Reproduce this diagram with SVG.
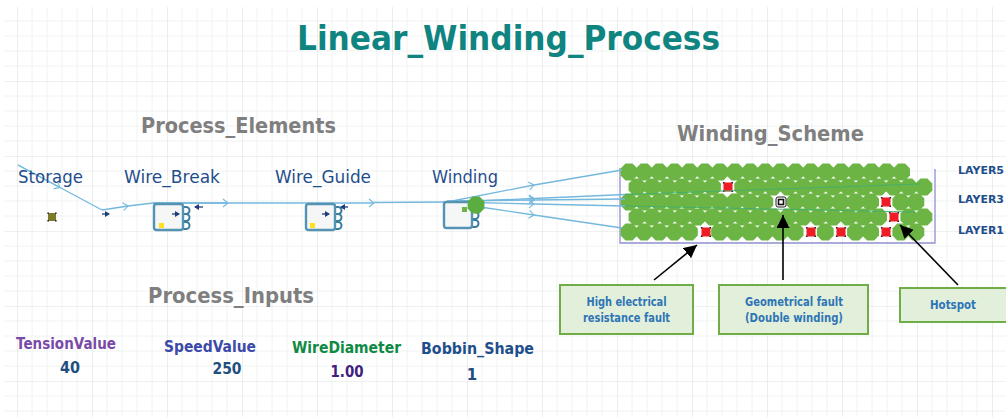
<svg xmlns="http://www.w3.org/2000/svg" width="1006" height="417" viewBox="0 0 1006 417">
<style>
text{font-family:"DejaVu Sans","Noto Sans",sans-serif}
.h{font-weight:700;fill:#7f7f7f;font-size:21px}
.n{fill:#1f4e8c;font-size:18px}
.l{font-weight:700;fill:#1f4e8c;font-size:11px}
.c{font-weight:700;fill:#2e75b6;font-size:12px;text-anchor:middle}
.b{fill:#e2efda;stroke:#70ad47;stroke-width:2}
.i{font-weight:700;font-size:15px}
.v{font-weight:700;font-size:15px;text-anchor:middle}
.w{fill:none;stroke:#74b8de;stroke-width:1.3}
.t{fill:none;stroke:#3fae6e;stroke-width:.9}
.k{stroke:#000;stroke-width:1.6;fill:none;marker-end:url(#blk)}
.box{fill:#f5f6f6;stroke:#5493b3;stroke-width:2.4}
.port{fill:none;stroke:#3a7d9f;stroke-width:2}
.g{fill:#6cb544}
.r{fill:#ee1c25;stroke:#222;stroke-width:1.2;stroke-dasharray:2 7;stroke-dashoffset:1}
.mini{stroke:#1f3f7a;stroke-width:1.3;fill:none;marker-end:url(#mini)}
</style>
<defs>
<pattern id="grid" x="17" y="6" width="75" height="75" patternUnits="userSpaceOnUse">
<path d="M15 0V75M30 0V75M45 0V75M60 0V75M0 15H75M0 30H75M0 45H75M0 60H75" stroke="#f0f2f2" stroke-width="1" fill="none"/>
<path d="M0 0V75M0 0H75" stroke="#dfe2e2" stroke-width="1.2" fill="none"/>
</pattern>
<marker id="chev" markerWidth="9" markerHeight="10" refX="7" refY="5" orient="auto" markerUnits="userSpaceOnUse"><path d="M2 1L7 5L2 9" fill="none" stroke="#74b8de" stroke-width="1.1"/></marker>
<marker id="blk" markerWidth="14" markerHeight="13" refX="13" refY="6.500" orient="auto" markerUnits="userSpaceOnUse"><path d="M0 0L13 6.500L0 13Z" fill="#000"/></marker>
<marker id="mini" markerWidth="5" markerHeight="6" refX="4" refY="3" orient="auto" markerUnits="userSpaceOnUse"><path d="M0 0L5 3L0 6Z" fill="#1f3f7a"/></marker>
<polygon id="o" class="g" points="8.4,3.5 3.5,8.4 -3.5,8.4 -8.4,3.5 -8.4,-3.5 -3.5,-8.4 3.5,-8.4 8.4,-3.5"/>
<rect id="rd" x="-4.500" y="-4.500" width="9" height="9" class="r"/>
</defs>
<rect width="1006" height="417" fill="#fff"/>
<rect x="4" y="7" width="1002" height="410" fill="url(#grid)"/>

<text id="title" x="297" y="50" font-size="34" font-weight="700" fill="#0f8480" textLength="423" lengthAdjust="spacingAndGlyphs">Linear_Winding_Process</text>
<text class="h" x="141" y="133" textLength="195" lengthAdjust="spacingAndGlyphs">Process_Elements</text>
<text class="h" x="677" y="141" textLength="187" lengthAdjust="spacingAndGlyphs">Winding_Scheme</text>
<text class="h" x="148" y="303" textLength="166" lengthAdjust="spacingAndGlyphs">Process_Inputs</text>

<g id="winding-scheme">
<path d="M620 168V243H935V169" fill="none" stroke="#8f8fd0" stroke-width="1.3"/>
<g id="layer5"><use href="#o" x="629" y="172"/><use href="#o" x="644.2" y="172"/><use href="#o" x="659.3" y="172"/><use href="#o" x="674.5" y="172"/><use href="#o" x="689.6" y="172"/><use href="#o" x="704.8" y="172"/><use href="#o" x="719.9" y="172"/><use href="#o" x="735" y="172"/><use href="#o" x="750.2" y="172"/><use href="#o" x="765.3" y="172"/><use href="#o" x="780.5" y="172"/><use href="#o" x="795.6" y="172"/><use href="#o" x="810.7" y="172"/><use href="#o" x="825.9" y="172"/><use href="#o" x="841" y="172"/><use href="#o" x="856.2" y="172"/><use href="#o" x="871.3" y="172"/><use href="#o" x="886.5" y="172"/><use href="#o" x="901.6" y="172"/></g>
<g id="layer4"><use href="#o" x="637" y="187"/><use href="#o" x="652.1" y="187"/><use href="#o" x="667.2" y="187"/><use href="#o" x="682.3" y="187"/><use href="#o" x="697.4" y="187"/><use href="#o" x="712.5" y="187"/><use href="#o" x="742.7" y="187"/><use href="#o" x="757.8" y="187"/><use href="#o" x="772.9" y="187"/><use href="#o" x="788" y="187"/><use href="#o" x="803.1" y="187"/><use href="#o" x="818.2" y="187"/><use href="#o" x="833.3" y="187"/><use href="#o" x="848.4" y="187"/><use href="#o" x="863.5" y="187"/><use href="#o" x="878.6" y="187"/><use href="#o" x="893.7" y="187"/><use href="#o" x="908.8" y="187"/><use href="#o" x="923.9" y="187"/></g>
<g id="layer3"><use href="#o" x="629" y="202"/><use href="#o" x="644.1" y="202"/><use href="#o" x="659.2" y="202"/><use href="#o" x="674.3" y="202"/><use href="#o" x="689.4" y="202"/><use href="#o" x="704.5" y="202"/><use href="#o" x="719.6" y="202"/><use href="#o" x="734.7" y="202"/><use href="#o" x="749.8" y="202"/><use href="#o" x="764.9" y="202"/><use href="#o" x="795.1" y="202"/><use href="#o" x="810.2" y="202"/><use href="#o" x="825.3" y="202"/><use href="#o" x="840.4" y="202"/><use href="#o" x="855.5" y="202"/><use href="#o" x="870.6" y="202"/><use href="#o" x="900.8" y="202"/><use href="#o" x="915.9" y="202"/></g>
<g id="layer2"><use href="#o" x="637" y="217"/><use href="#o" x="652.1" y="217"/><use href="#o" x="667.2" y="217"/><use href="#o" x="682.3" y="217"/><use href="#o" x="697.4" y="217"/><use href="#o" x="712.5" y="217"/><use href="#o" x="727.6" y="217"/><use href="#o" x="742.7" y="217"/><use href="#o" x="757.8" y="217"/><use href="#o" x="772.9" y="217"/><use href="#o" x="788" y="217"/><use href="#o" x="803.1" y="217"/><use href="#o" x="818.2" y="217"/><use href="#o" x="833.3" y="217"/><use href="#o" x="848.4" y="217"/><use href="#o" x="863.5" y="217"/><use href="#o" x="878.6" y="217"/><use href="#o" x="908.8" y="217"/><use href="#o" x="923.9" y="217"/></g>
<g id="layer1"><use href="#o" x="629" y="232"/><use href="#o" x="644.1" y="232"/><use href="#o" x="659.2" y="232"/><use href="#o" x="674.3" y="232"/><use href="#o" x="689.4" y="232"/><use href="#o" x="719.6" y="232"/><use href="#o" x="734.7" y="232"/><use href="#o" x="749.8" y="232"/><use href="#o" x="764.9" y="232"/><use href="#o" x="780" y="232"/><use href="#o" x="795.1" y="232"/><use href="#o" x="825.3" y="232"/><use href="#o" x="855.5" y="232"/><use href="#o" x="870.6" y="232"/><use href="#o" x="900.8" y="232"/><use href="#o" x="915.9" y="232"/></g>
<g id="faults"><use href="#rd" x="728" y="187"/><use href="#rd" x="886" y="202"/><use href="#rd" x="894" y="217"/><use href="#rd" x="706" y="232"/><use href="#rd" x="811" y="232"/><use href="#rd" x="841" y="232"/><use href="#rd" x="886" y="232"/>
<rect x="776" y="197" width="10" height="10" rx="2" fill="#fff" stroke="#222" stroke-width="1"/><rect x="778.500" y="199.500" width="5" height="5" fill="none" stroke="#111" stroke-width="1.6"/></g>
</g>

<g id="connectors">
<path class="w" d="M18 165L102 210"/>
<path class="w" d="M18 165L60 187.500" marker-end="url(#chev)"/>
<path class="w" d="M102 210L128 206" marker-end="url(#chev)"/>
<path class="w" d="M128 206L153 203H228"/>
<path class="w" d="M153 203H228" marker-end="url(#chev)"/>
<path class="w" d="M228 203H374" marker-end="url(#chev)"/>
<path class="w" d="M374 202.500L447 202"/>
<path class="w" d="M447 202L534 185" marker-end="url(#chev)"/>
<path class="w" d="M534 185L622 170"/>
<path class="w" d="M447 202L534 198.500" marker-end="url(#chev)"/>
<path class="w" d="M534 198.500L625 194.500"/>
<path class="w" d="M447 201L534 200" marker-end="url(#chev)"/>
<path class="w" d="M534 200L625 199"/>
<path class="w" d="M447 202L534 204" marker-end="url(#chev)"/>
<path class="w" d="M534 204L625 206"/>
<path class="w" d="M480 207L534 215" marker-end="url(#chev)"/>
<path class="w" d="M534 215L622 228"/>
<path class="t" d="M625 194.500L920 184"/>
<path class="t" d="M625 206L915 212"/>
<path class="k" d="M654 280L697 245"/>
<path class="k" d="M783 280V215"/>
<path class="k" d="M958 285L900 225"/>
</g>

<g id="storage"><text class="n" x="18" y="183" textLength="65" lengthAdjust="spacingAndGlyphs">Storage</text><rect x="48" y="213" width="8" height="8" fill="#7d7a2c" stroke="#222" stroke-width="1.200" stroke-dasharray="2 6" stroke-dashoffset="1"/></g>
<g id="wire-break"><text class="n" x="124" y="183" textLength="96" lengthAdjust="spacingAndGlyphs">Wire_Break</text><path class="port" d="M183 207h3a2 2 0 0 1 0 7h-3M183 214h3a2 2 0 0 1 0 7h-3M183 222h3a2 2 0 0 1 0 7h-3"/><rect class="box" x="154" y="204" width="29" height="26" rx="2.500"/><rect x="159" y="223" width="5" height="5" fill="#ffdf20"/><path class="mini" d="M172 214H179"/><path class="mini" d="M203 207H195"/><path class="mini" d="M102 214H109"/></g>
<g id="wire-guide"><text class="n" x="275" y="183" textLength="96" lengthAdjust="spacingAndGlyphs">Wire_Guide</text><path class="port" d="M335 207h3a2 2 0 0 1 0 7h-3M335 214h3a2 2 0 0 1 0 7h-3M335 222h3a2 2 0 0 1 0 7h-3"/><rect class="box" x="306" y="204" width="29" height="26" rx="2.500"/><rect x="310" y="223" width="5" height="5" fill="#ffdf20"/><path class="mini" d="M322 214H329"/><path class="mini" d="M348 207H341"/></g>
<g id="winding"><text class="n" x="432" y="183" textLength="66" lengthAdjust="spacingAndGlyphs">Winding</text><path class="port" d="M472 212h3a2 2 0 0 1 0 7h-3M472 220h3a2 2 0 0 1 0 7h-3"/><rect class="box" x="444" y="202" width="28" height="26" rx="2.500"/><rect x="462" y="207" width="5" height="5" fill="#6cb544"/><polygon transform="translate(476 205)" fill="#5aae3f" points="8.4,3.5 3.5,8.4 -3.5,8.4 -8.4,3.5 -8.4,-3.5 -3.5,-8.4 3.5,-8.4 8.4,-3.5"/></g>

<text class="l" x="958" y="174" textLength="46" lengthAdjust="spacingAndGlyphs">LAYER5</text>
<text class="l" x="958" y="203" textLength="46" lengthAdjust="spacingAndGlyphs">LAYER3</text>
<text class="l" x="958" y="234" textLength="46" lengthAdjust="spacingAndGlyphs">LAYER1</text>

<g id="note-resistance"><rect class="b" x="560" y="285" width="133" height="49"/><text class="c" x="626.500" y="306" textLength="80" lengthAdjust="spacingAndGlyphs">High electrical</text><text class="c" x="626.500" y="322" textLength="87" lengthAdjust="spacingAndGlyphs">resistance fault</text></g>
<g id="note-geometry"><rect class="b" x="719" y="285" width="149" height="49"/><text class="c" x="794" y="306" textLength="98" lengthAdjust="spacingAndGlyphs">Geometrical fault</text><text class="c" x="794" y="322" textLength="98" lengthAdjust="spacingAndGlyphs">(Double winding)</text></g>
<g id="note-hotspot"><rect class="b" x="900" y="288" width="107" height="34"/><text class="c" x="953" y="309" textLength="46" lengthAdjust="spacingAndGlyphs">Hotspot</text></g>

<g id="input-tension"><text class="i" x="16" y="349" fill="#7a4aa8" textLength="100" lengthAdjust="spacingAndGlyphs">TensionValue</text><text class="v" x="70" y="373" fill="#1f4e80" textLength="20" lengthAdjust="spacingAndGlyphs">40</text></g>
<g id="input-speed"><text class="i" x="164" y="352" fill="#3b4aa8" textLength="92" lengthAdjust="spacingAndGlyphs">SpeedValue</text><text class="v" x="227" y="374" fill="#1f4e80" textLength="29" lengthAdjust="spacingAndGlyphs">250</text></g>
<g id="input-diameter"><text class="i" x="292" y="353" fill="#0f8a45" textLength="109" lengthAdjust="spacingAndGlyphs">WireDiameter</text><text class="v" x="347" y="377" fill="#3f2080" textLength="33" lengthAdjust="spacingAndGlyphs">1.00</text></g>
<g id="input-bobbin"><text class="i" x="421" y="354" fill="#1f4e8c" textLength="113" lengthAdjust="spacingAndGlyphs">Bobbin_Shape</text><text class="v" x="472" y="380" fill="#1f4e80">1</text></g>
</svg>
